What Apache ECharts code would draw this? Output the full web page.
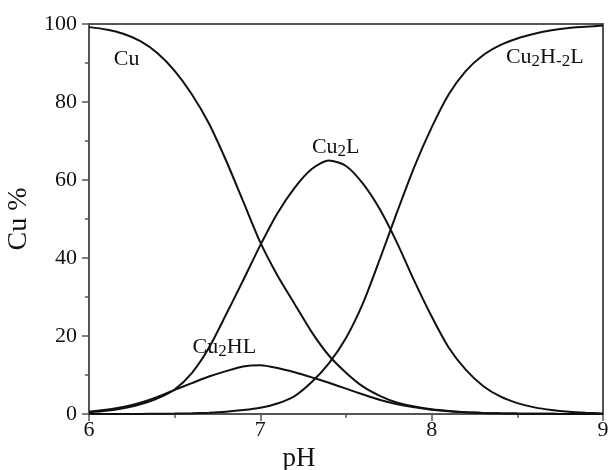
<!DOCTYPE html>
<html>
<head>
<meta charset="utf-8">
<script src="https://cdn.jsdelivr.net/npm/echarts@6/dist/echarts.min.js"></script>
<style>
  html, body { margin: 0; padding: 0; background: #fff; }
  #myCanvas { width: 609px; height: 470px; }
</style>
</head>
<body>
<div id="myCanvas"></div>
<script>
// pH steps (0.1 apart)
var phValues = [6.0, 6.1, 6.2, 6.3, 6.4, 6.5, 6.6, 6.7, 6.8, 6.9,
                7.0, 7.1, 7.2, 7.3, 7.4, 7.5, 7.6, 7.7, 7.8, 7.9,
                8.0, 8.1, 8.2, 8.3, 8.4, 8.5, 8.6, 8.7, 8.8, 8.9, 9.0];

var cuFree = [99.2, 98.6, 97.5, 95.6, 92.5, 88.0, 82.0, 74.5, 65.0, 54.5,
              44.0, 35.5, 28.2, 21.0, 15.0, 10.6, 7.0, 4.6, 2.9, 1.9,
              1.2, 0.75, 0.45, 0.28, 0.17, 0.1, 0.06, 0.04, 0.02, 0.01, 0.0];
var cu2L = [0.4, 0.8, 1.5, 2.5, 4.0, 6.3, 10.5, 17.0, 25.5, 34.3,
            43.3, 51.5, 58.0, 62.8, 65.0, 63.6, 59.0, 52.3, 43.7, 34.0,
            25.0, 17.0, 11.3, 7.2, 4.5, 2.8, 1.7, 1.0, 0.55, 0.3, 0.15];
var cu2HL = [0.6, 1.1, 1.8, 2.9, 4.4, 6.2, 7.9, 9.6, 11.0, 12.2,
             12.5, 11.8, 10.7, 9.4, 8.0, 6.5, 5.0, 3.6, 2.5, 1.7,
             1.1, 0.7, 0.45, 0.28, 0.17, 0.1, 0.06, 0.04, 0.02, 0.01, 0.0];
var cu2H2L = [0.0, 0.0, 0.01, 0.02, 0.05, 0.1, 0.2, 0.35, 0.6, 1.0,
              1.6, 2.7, 4.6, 8.2, 13.0, 19.5, 28.5, 40.0, 52.0, 63.5,
              73.5, 82.0, 88.0, 92.0, 94.6, 96.3, 97.5, 98.4, 99.0, 99.3, 99.6];

var yTicks = [0, 20, 40, 60, 80, 100];

// species labels: [pH, %, text]
var speciesLabels = [
    [6.22, 91.0, 'Cu'],
    [7.44, 68.4, 'Cu{sub|2}L'],
    [6.79, 17.2, 'Cu{sub|2}HL'],
    [8.66, 91.6, 'Cu{sub|2}H{sub|-2}L']
];

var pairs = function(ys){
    return phValues.map(function(x, i){ return [x, ys[i]]; });
};

var serif = '"Liberation Serif", "DejaVu Serif", serif';

var lineSeries = function(name, ys){
    return {
        name: name,
        type: 'line',
        data: pairs(ys),
        showSymbol: false,
        smooth: 0.25,
        lineStyle: { color: '#111', width: 2 },
        z: 3
    };
};

var myChart = echarts.init(document.getElementById('myCanvas'));
var option = {
    animation: false,
    backgroundColor: '#fff',
    grid: {
        left: 89,
        right: 6,
        top: 24,
        bottom: 56,
        outerBoundsMode: 'none',
        containLabel: false,
        show: true,
        borderColor: '#555',
        borderWidth: 2
    },
    xAxis: {
        type: 'value',
        min: 6,
        max: 9,
        interval: 1,
        name: 'pH',
        nameLocation: 'middle',
        nameGap: 23,
        nameTextStyle: { fontFamily: serif, fontSize: 27, color: '#111', padding: [0, 94, 0, 0] },
        axisLine: { lineStyle: { color: '#555', width: 2 } },
        axisTick: { inside: false, length: 7, lineStyle: { color: '#555', width: 1.5 } },
        minorTick: { show: true, splitNumber: 2, length: 4, lineStyle: { color: '#555', width: 1.5 } },
        splitLine: { show: false },
        axisLabel: { fontFamily: serif, fontSize: 22, color: '#111', margin: 5 }
    },
    yAxis: {
        type: 'value',
        min: 0,
        max: 100,
        interval: 20,
        name: 'Cu %',
        nameLocation: 'middle',
        nameGap: 55,
        nameTextStyle: { fontFamily: serif, fontSize: 28, color: '#111' },
        axisLine: { lineStyle: { color: '#555', width: 2 } },
        axisTick: { inside: false, length: 7, lineStyle: { color: '#555', width: 1.5 } },
        minorTick: { show: true, splitNumber: 2, length: 4, lineStyle: { color: '#555', width: 1.5 } },
        splitLine: { show: false },
        axisLabel: {
            fontFamily: serif, fontSize: 22, color: '#111', margin: 12,
            formatter: function(v){ return yTicks.indexOf(v) >= 0 ? String(v) : ''; }
        }
    },
    series: [
        lineSeries('Cu', cuFree),
        lineSeries('Cu2L', cu2L),
        lineSeries('Cu2HL', cu2HL),
        lineSeries('Cu2H-2L', cu2H2L),
        {
            name: 'labels',
            type: 'scatter',
            data: speciesLabels,
            symbolSize: 0,
            silent: true,
            itemStyle: { opacity: 1 },
            z: 4,
            label: {
                show: true,
                position: 'inside',
                formatter: function(p){ return p.data[2]; },
                fontFamily: serif,
                fontSize: 22,
                color: '#111',
                rich: {
                    sub: { fontFamily: serif, fontSize: 17, color: '#111', verticalAlign: 'bottom', padding: [9, 0, 0, 0] }
                }
            }
        }
    ]
};
myChart.setOption(option);
</script>
</body>
</html>
